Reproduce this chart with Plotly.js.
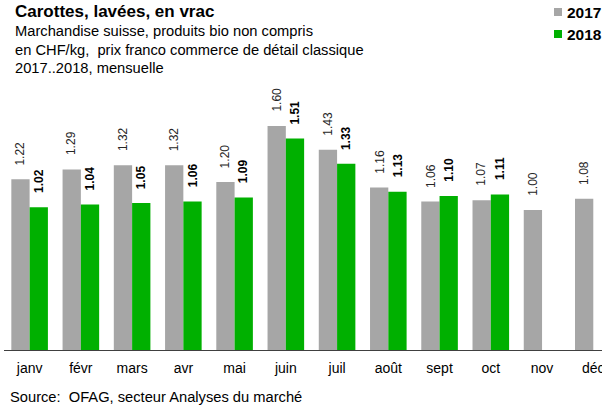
<!DOCTYPE html>
<html><head><meta charset="utf-8">
<script src="https://cdn.plot.ly/plotly-3.0.1.min.js"></script>
<style>body{margin:0;padding:0;background:#fff}#chart{width:602px;height:407px}</style>
</head><body><div id="chart"></div>
<script>
const months = ["janv","févr","mars","avr","mai","juin","juil","août","sept","oct","nov","déc"];
const series2017 = [1.22,1.29,1.32,1.32,1.20,1.60,1.43,1.16,1.06,1.07,1.00,1.08];
const series2018 = [1.02,1.04,1.05,1.06,1.09,1.51,1.33,1.13,1.10,1.11,null,null];
const seriesNames = ["2017","2018"];
const colors = ["#A6A6A6","#00B000"];

const FONT = "Liberation Sans, Arial, sans-serif";
const xIdx = months.map((m,i)=>i);

const traces = [
  {type:"bar", name:seriesNames[0], x:xIdx, y:series2017, marker:{color:colors[0]}, showlegend:false, hoverinfo:"skip"},
  {type:"bar", name:seriesNames[1], x:xIdx, y:series2018, marker:{color:colors[1]}, showlegend:false, hoverinfo:"skip"}
];

const annotations = [];
const shift = 9.2;
series2017.forEach((v,i)=>{ if(v!=null) annotations.push({x:i, y:v, xref:"x", yref:"y", text:v.toFixed(2), showarrow:false, textangle:-90, xanchor:"center", yanchor:"bottom", xshift:-shift, yshift:12, font:{family:FONT,size:12,color:"#262626"}}); });
series2018.forEach((v,i)=>{ if(v!=null) annotations.push({x:i, y:v, xref:"x", yref:"y", text:"<b>"+v.toFixed(2)+"</b>", showarrow:false, textangle:-90, xanchor:"center", yanchor:"bottom", xshift:shift, yshift:12, font:{family:FONT,size:12,color:"#000"}}); });

function txt(t, x, y, size, opts){ return Object.assign({text:t, xref:"paper", yref:"paper", x:x, y:y, showarrow:false, xanchor:"left", yanchor:"middle", font:{family:FONT,size:size,color:"#000"}}, opts||{}); }
// paper coords: plot area x from 4 to 602 (598 wide), y from 90 to 350 (260 tall)
function px(X){ return (X-4)/598; }
function py(Y){ return (350-Y)/260; }
annotations.push(txt("<b>Carottes, lavées, en vrac</b>", px(13), py(12), 17));
annotations.push(txt("Marchandise suisse, produits bio non compris", px(13), py(31), 14.7));
annotations.push(txt("en CHF/kg,  prix franco commerce de détail classique", px(13), py(49.5), 14.7));
annotations.push(txt("2017..2018, mensuelle", px(13), py(67.5), 14.7));
annotations.push(txt("Source:  OFAG, secteur Analyses du marché", px(8), py(397), 14.7));
annotations.push(txt("<b>2017</b>", px(565), py(12.5), 15.5));
annotations.push(txt("<b>2018</b>", px(565), py(34), 15.5));

const shapes = [
  {type:"rect", xref:"paper", yref:"paper", x0:px(554), x1:px(562), y0:py(8), y1:py(16), fillcolor:colors[0], line:{width:0}},
  {type:"rect", xref:"paper", yref:"paper", x0:px(554), x1:px(562), y0:py(30), y1:py(38), fillcolor:colors[1], line:{width:0}}
];

const layout = {
  width:602, height:407,
  margin:{l:4, r:0, t:90, b:57, pad:0},
  paper_bgcolor:"#fff", plot_bgcolor:"#fff",
  barmode:"group", bargap:0.286, bargroupgap:0,
  xaxis:{range:[-0.5, 11.17], tickmode:"array", tickvals:xIdx, ticktext:months, showgrid:false, zeroline:false,
         showline:true, linecolor:"#404040", linewidth:1, ticks:"", ticklabelstandoff:5, ticklabeloverflow:"allow",
         tickfont:{family:FONT,size:14,color:"#000"}, fixedrange:true},
  yaxis:{range:[0, 1.857], visible:false, showgrid:false, zeroline:false, fixedrange:true},
  annotations:annotations, shapes:shapes,
  showlegend:false
};
Plotly.newPlot("chart", traces, layout, {displayModeBar:false, staticPlot:true});
</script></body></html>
